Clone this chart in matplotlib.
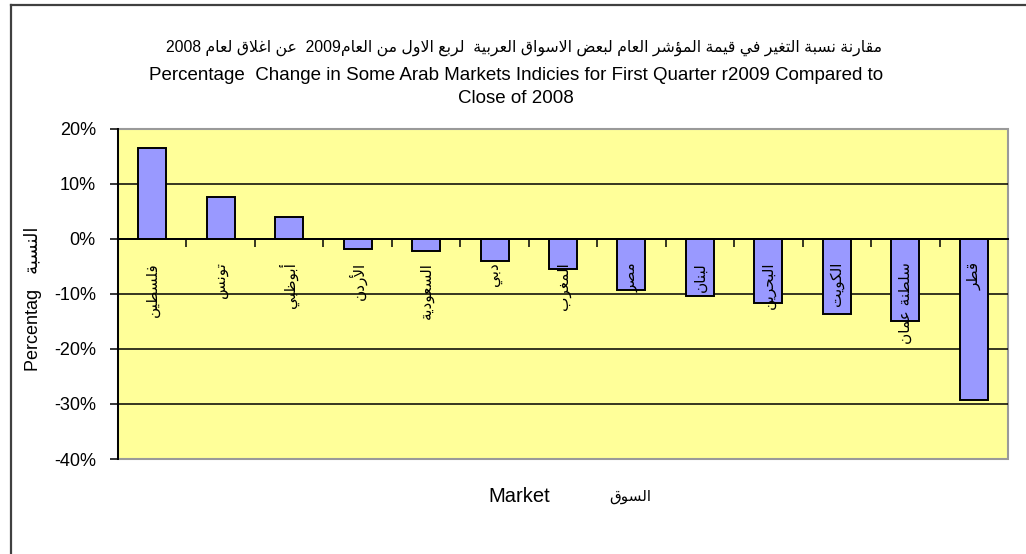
import re
import matplotlib
matplotlib.use('Agg')
import matplotlib.pyplot as plt
from matplotlib.patches import Rectangle
from matplotlib.lines import Line2D
from matplotlib.ticker import FuncFormatter, FixedLocator

# data (fraction change, Q1 2009 vs close of 2008)
markets = ['فلسطين', 'تونس', 'أبوظبي', 'الأردن', 'السعودية', 'دبي', 'المغرب',
           'مصر', 'لبنان', 'البحرين', 'الكويت', 'سلطنة عمان', 'قطر']
change = [0.164, 0.076, 0.040, -0.018, -0.023, -0.041, -0.055,
          -0.093, -0.104, -0.117, -0.136, -0.150, -0.293]
y_ticks = [-0.4, -0.3, -0.2, -0.1, 0.0, 0.1, 0.2]

title_ar = 'مقارنة نسبة التغير في قيمة المؤشر العام لبعض الاسواق العربية  لربع الاول من العام2009  عن اغلاق لعام 2008'
title_en = 'Percentage  Change in Some Arab Markets Indicies for First Quarter r2009 Compared to\nClose of 2008'
ylabel_en, ylabel_ar = 'Percentag', 'النسبة'
xlabel_en, xlabel_ar = 'Market', 'السوق'


# --- minimal arabic shaping (matplotlib has no complex text layout) ---
def build_forms():
    order = list(range(0x0621, 0x063B)) + list(range(0x0641, 0x064B))
    two = set('آأؤإاةدذرزوى')
    table, base = {}, 0xFE80
    for cp in order:
        ch = chr(cp)
        n = 1 if ch == 'ء' else 2 if ch in two else 4
        table[ch] = [chr(base + k) for k in range(n)]
        base += n
    return table


FORMS = build_forms()
LAM_ALEF = {'آ': 0xFEF5, 'أ': 0xFEF7, 'إ': 0xFEF9, 'ا': 0xFEFB}


def joins_next(c):
    return c == 'ـ' or len(FORMS.get(c, [])) == 4


def joins_prev(c):
    return c == 'ـ' or len(FORMS.get(c, [])) >= 2


def shape(text):
    out, i = [], 0
    while i < len(text):
        c = text[i]
        prev = text[i - 1] if i > 0 else ''
        jp = bool(prev) and joins_next(prev) and joins_prev(c)
        if c == 'ل' and i + 1 < len(text) and text[i + 1] in LAM_ALEF:
            lig = LAM_ALEF[text[i + 1]]
            out.append(chr(lig + 1) if jp else chr(lig))
            i += 2
            continue
        if c not in FORMS:
            out.append(c)
            i += 1
            continue
        f = FORMS[c]
        nxt = text[i + 1] if i + 1 < len(text) else ''
        jn = joins_next(c) and bool(nxt) and joins_prev(nxt)
        if jp and jn:
            out.append(f[3])
        elif jp:
            out.append(f[1])
        elif jn:
            out.append(f[2])
        else:
            out.append(f[0])
        i += 1
    return ''.join(out)


def visual(text):
    s = shape(text)[::-1]
    return re.sub(r'[0-9A-Za-z%.]+', lambda m: m.group(0)[::-1], s)


FONT = ['Liberation Sans', 'DejaVu Sans']

W, H = 1026, 554
fig = plt.figure(figsize=(W / 100, H / 100), dpi=100)

# plot area in pixel terms
left, right, top, bottom = 118, 1008, 128.5, 459
ax = fig.add_axes([left / W, 1 - bottom / H, (right - left) / W, (bottom - top) / H])
ax.set_facecolor('#FFFF99')

x = list(range(len(markets)))
ax.bar(x, change, width=0.41, color='#9999FF', edgecolor='black', linewidth=1.4, zorder=3)

ax.set_xlim(-0.5, len(markets) - 0.5)
ax.set_ylim(y_ticks[0], y_ticks[-1])

# horizontal gridlines (inner ones only)
for t in y_ticks[1:-1]:
    ax.axhline(t, color='black', linewidth=1.1, zorder=1)

ax.yaxis.set_major_locator(FixedLocator(y_ticks))
ax.yaxis.set_major_formatter(FuncFormatter(lambda v, p: f'{v * 100:.0f}%'))
ax.tick_params(axis='y', direction='out', length=6, width=1.1, labelsize=13, pad=10)
for lab in ax.get_yticklabels():
    lab.set_family(FONT)

# category axis on the zero line, tick marks between categories
ax.spines['bottom'].set_position(('data', 0))
ax.spines['bottom'].set_linewidth(1.4)
ax.spines['bottom'].set_zorder(4)
ax.set_xticks([i + 0.5 for i in x[:-1]])
ax.tick_params(axis='x', direction='out', length=6, width=1.1, labelbottom=False)
ax.spines['left'].set_linewidth(1.4)
ax.spines['top'].set_visible(False)
ax.spines['right'].set_visible(False)
ax.add_patch(Rectangle((0, 0), 1, 1, transform=ax.transAxes, fill=False,
                       edgecolor='#9a9a9a', linewidth=1.5, zorder=0.5, clip_on=False))

for i, name in zip(x, markets):
    ax.text(i, -0.042, visual(name), rotation=90, ha='center', va='top',
            fontsize=11, family=['DejaVu Sans'], zorder=5)

# titles and axis labels
fig.text(524 / W, 1 - 48 / H, visual(title_ar), ha='center', va='center', fontsize=11.3, family=FONT)
fig.text(516 / W, 1 - 87 / H, title_en, ha='center', va='center', fontsize=13.5,
         family=FONT, linespacing=1.42)
fig.text(33 / W, 1 - 299 / H, ylabel_en + '   ' + visual(ylabel_ar), rotation=90,
         ha='center', va='center', fontsize=13, family=FONT)
fig.text(519 / W, 1 - 497 / H, xlabel_en, ha='center', va='center', fontsize=14.5, family=FONT)
fig.text(630 / W, 1 - 497 / H, visual(xlabel_ar), ha='center', va='center', fontsize=11, family=['DejaVu Sans'])

# chart-area border (runs off the right and bottom edges)
fig.add_artist(Line2D([11 / W, 1.0], [1 - 5 / H, 1 - 5 / H], color='#404040', linewidth=1.6))
fig.add_artist(Line2D([11 / W, 11 / W], [0.0, 1 - 5 / H], color='#404040', linewidth=1.6))

fig.savefig('out.png', dpi=100)
